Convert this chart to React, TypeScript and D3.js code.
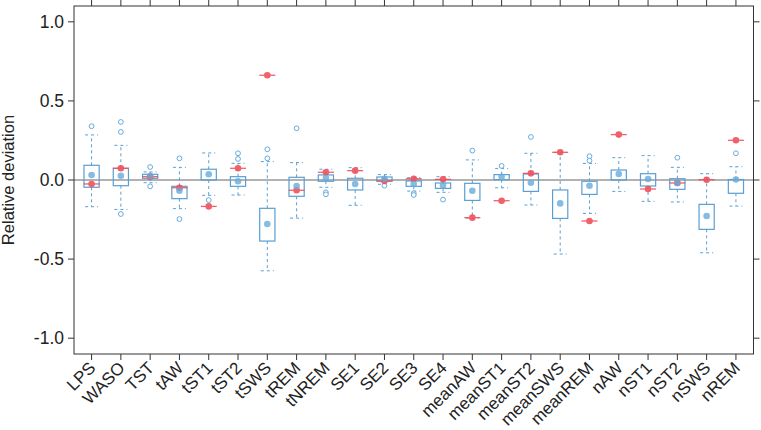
import React from "react";
import * as d3 from "d3";

const categories = ["LPS","WASO","TST","tAW","tST1","tST2","tSWS","tREM","tNREM","SE1","SE2","SE3","SE4","meanAW","meanST1","meanST2","meanSWS","meanREM","nAW","nST1","nST2","nSWS","nREM"];
const whiskerLow = [-0.169,-0.186,-0.017,-0.181,-0.097,-0.095,-0.574,-0.241,-0.046,-0.160,-0.027,-0.070,-0.078,-0.241,-0.049,-0.158,-0.468,-0.211,-0.072,-0.135,-0.139,-0.460,-0.165];
const quartile1 = [-0.046,-0.036,0.011,-0.118,0.0,-0.040,-0.386,-0.103,-0.008,-0.063,-0.008,-0.040,-0.053,-0.129,0.002,-0.072,-0.243,-0.091,0.0,-0.038,-0.059,-0.312,-0.084];
const medians = [0.032,0.027,0.025,-0.068,0.036,-0.008,-0.278,-0.038,0.013,-0.025,0.008,-0.025,-0.034,-0.068,0.021,-0.017,-0.148,-0.036,0.038,0.006,-0.019,-0.228,0.003];
const quartile3 = [0.093,0.074,0.036,-0.040,0.068,0.021,-0.179,0.017,0.032,0.011,0.019,-0.006,-0.019,-0.021,0.034,0.038,-0.063,-0.008,0.063,0.040,0.008,-0.154,0.003];
const whiskerHigh = [0.285,0.219,0.051,0.080,0.171,0.105,0.116,0.110,0.068,0.078,0.034,0.015,0.021,0.127,0.072,0.169,0.175,0.105,0.141,0.154,0.080,0.040,0.084];
const outliers = [[0.34],[0.367,0.304,-0.215],[0.082,-0.040],[0.137,-0.247],[-0.127],[0.169,0.133],[0.194,0.137],[0.327],[-0.078,-0.091],[],[-0.036],[-0.084,-0.095],[-0.124],[0.186],[0.089],[0.272],[],[0.150,0.122],[],[],[0.141],[],[0.169]];
const reference = [-0.025,0.074,0.021,-0.049,-0.167,0.074,0.662,-0.065,0.049,0.059,-0.006,0.008,0.004,-0.238,-0.131,0.042,0.175,-0.259,0.287,-0.057,-0.019,0.002,0.251];
const yTicks = [-1.0,-0.5,0.0,0.5,1.0];

const W = 761, H = 430;
const left = 74, right = 753.5, top = 6, bottom = 354;
const FONT = "'Liberation Sans', Arial, Helvetica, sans-serif";
const BOX = "#5a9fd2";
const DOT = "#67abdc";
const RED = "#f0505c";
const AX = "#333333";

export default function App() {
  const x = d3.scaleLinear().domain([0.4, categories.length + 0.6]).range([left, right]);
  const y = d3.scaleLinear().domain([-1.1, 1.1]).range([bottom, top]);
  const bw = 7.6, cw = 6.5;
  return (
    <svg width={W} height={H} style={{ position: "absolute", left: 0, top: 0, background: "#fff" }}>
      <line x1={left} x2={right} y1={y(0)} y2={y(0)} stroke="#999" strokeWidth={1.5} />
      {categories.map((c, i) => {
        const cx = x(i + 1);
        return (
          <g key={c}>
            <line x1={cx} x2={cx} y1={y(quartile3[i])} y2={y(whiskerHigh[i])} stroke={BOX} strokeWidth={1} strokeDasharray="3,3" />
            <line x1={cx} x2={cx} y1={y(quartile1[i])} y2={y(whiskerLow[i])} stroke={BOX} strokeWidth={1} strokeDasharray="3,3" />
            <line x1={cx - cw} x2={cx + cw} y1={y(whiskerHigh[i])} y2={y(whiskerHigh[i])} stroke={BOX} strokeWidth={1} strokeDasharray="3,3" />
            <line x1={cx - cw} x2={cx + cw} y1={y(whiskerLow[i])} y2={y(whiskerLow[i])} stroke={BOX} strokeWidth={1} strokeDasharray="3,3" />
            <rect x={cx - bw} width={bw * 2} y={y(quartile3[i])} height={Math.max(0.5, y(quartile1[i]) - y(quartile3[i]))} fill="none" stroke={BOX} strokeWidth={1.2} />
            {outliers[i].map((o, j) => (
              <circle key={j} cx={cx} cy={y(o)} r={2.4} fill="#fff" stroke={DOT} strokeWidth={1} />
            ))}
            <g opacity={0.9}>
              <line x1={cx - 8} x2={cx + 8} y1={y(reference[i])} y2={y(reference[i])} stroke={RED} strokeWidth={1.3} />
              <circle cx={cx} cy={y(reference[i])} r={3.3} fill={RED} />
            </g>
            <circle cx={cx} cy={y(medians[i])} r={3.3} fill={DOT} opacity={0.8} />
          </g>
        );
      })}
      <rect x={left} y={top} width={right - left} height={bottom - top} fill="none" stroke={AX} strokeWidth={1} />
      {yTicks.map((t) => (
        <g key={t}>
          <line x1={left - 6} x2={left} y1={y(t)} y2={y(t)} stroke={AX} />
          <line x1={right} x2={right + 6} y1={y(t)} y2={y(t)} stroke={AX} />
          <text x={left - 10} y={y(t)} dy="0.36em" textAnchor="end" fontFamily={FONT} fontSize={17.5} fill="#222">{t.toFixed(1)}</text>
        </g>
      ))}
      {categories.map((c, i) => {
        const cx = x(i + 1);
        return (
          <g key={"t" + c}>
            <line x1={cx} x2={cx} y1={bottom} y2={bottom + 6} stroke={AX} />
            <line x1={cx} x2={cx} y1={top - 6} y2={top} stroke={AX} />
            <text transform={`translate(${cx + 5},${bottom + 15}) rotate(-45)`} textAnchor="end" fontFamily={FONT} fontSize={17} fill="#222">{c}</text>
          </g>
        );
      })}
      <text transform={`translate(${14},${(top + bottom) / 2}) rotate(-90)`} textAnchor="middle" fontFamily={FONT} fontSize={16.5} fill="#222">Relative deviation</text>
    </svg>
  );
}
